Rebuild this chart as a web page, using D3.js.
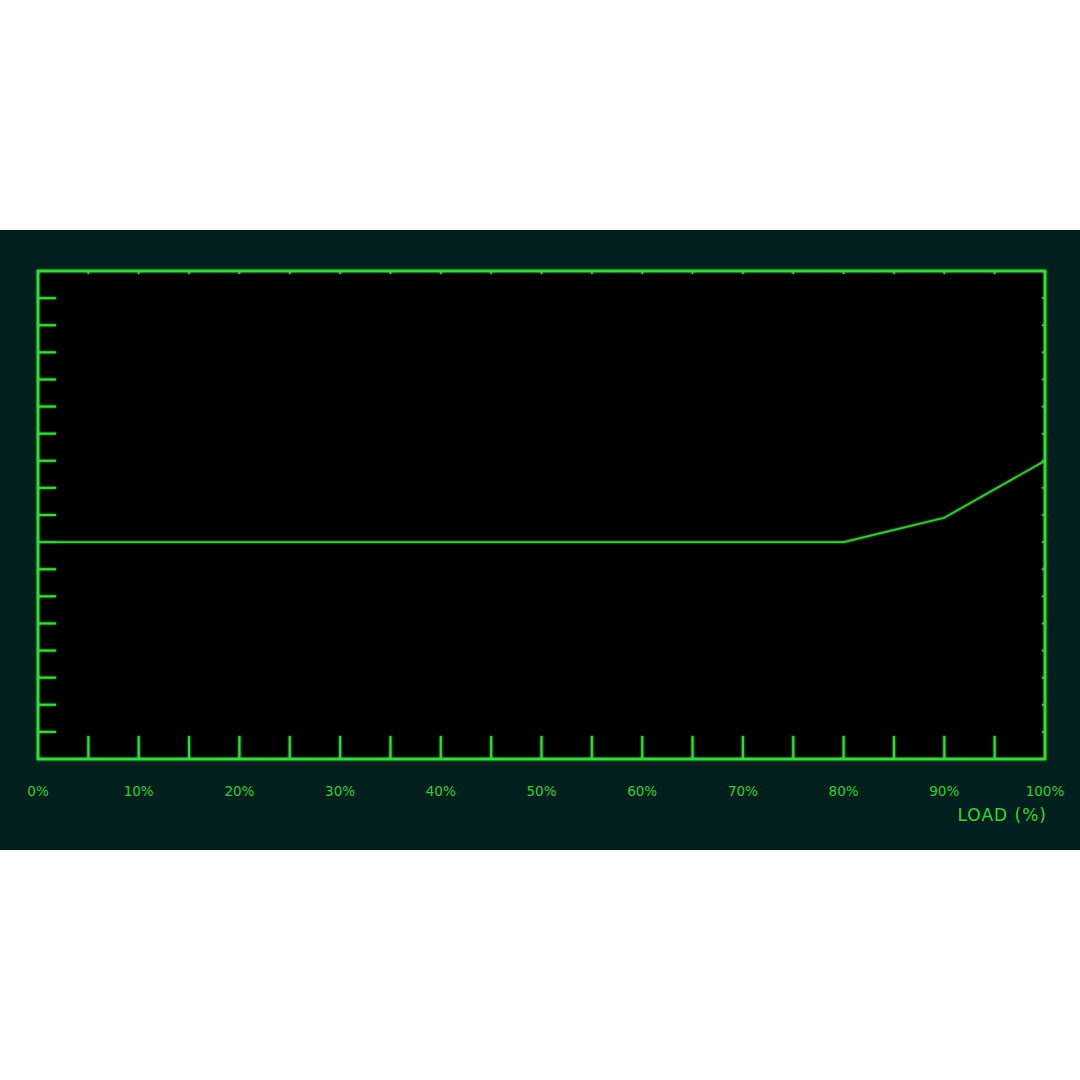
<!DOCTYPE html>
<html>
<head>
<meta charset="utf-8">
<script src="https://cdn.jsdelivr.net/npm/d3@7"></script>
<style>
  body { margin: 0; background: #ffffff; }
  svg { display: block; }
</style>
</head>
<body>
<script>
// load points (%) and curve level (unitless, grid of 18 steps)
const loads = [0, 10, 20, 30, 40, 50, 60, 70, 80, 90, 100];
const levels = [8, 8, 8, 8, 8, 8, 8, 8, 8, 8.9, 11];
const xTicks = [0, 10, 20, 30, 40, 50, 60, 70, 80, 90, 100];
const axisTitle = "LOAD (%)";

const W = 1080, H = 1080;
const green = "#3ad83a";
const margin = { top: 271, left: 38, right: 35, bottom: 321 };
const width = W - margin.left - margin.right;
const height = H - margin.top - margin.bottom;

const svg = d3.select("body").append("svg")
  .attr("width", W)
  .attr("height", H);

// soft glow like a scope screen
const defs = svg.append("defs");
const glow = defs.append("filter").attr("id", "glow")
  .attr("x", "-5%").attr("y", "-5%").attr("width", "110%").attr("height", "110%");
glow.append("feGaussianBlur").attr("stdDeviation", 1.2).attr("result", "b");
const merge = glow.append("feMerge");
merge.append("feMergeNode").attr("in", "b");
merge.append("feMergeNode").attr("in", "SourceGraphic");

// dark panel
svg.append("rect")
  .attr("x", 0).attr("y", 230)
  .attr("width", W).attr("height", 620)
  .attr("fill", "#011f1c");

const g = svg.append("g")
  .attr("transform", "translate(" + margin.left + "," + margin.top + ")");

g.append("rect")
  .attr("width", width).attr("height", height)
  .attr("fill", "#000000");

const x = d3.scaleLinear().domain([0, 100]).range([0, width]);
const y = d3.scaleLinear().domain([0, 18]).range([height, 0]);

const frame = g.append("g").attr("filter", "url(#glow)")
  .attr("stroke", green).attr("fill", "none");

// left ticks (long, inward) and right ticks (tiny)
const yTickVals = d3.range(1, 18);
frame.selectAll(".ly").data(yTickVals).enter().append("line")
  .attr("x1", 0).attr("x2", 18)
  .attr("y1", d => y(d)).attr("y2", d => y(d))
  .attr("stroke-width", 2);
frame.selectAll(".ry").data(yTickVals).enter().append("line")
  .attr("x1", width).attr("x2", width - 3)
  .attr("y1", d => y(d)).attr("y2", d => y(d))
  .attr("stroke-width", 1.5);

// bottom ticks every 5% and tiny top ticks
const xMinor = d3.range(5, 100, 5);
frame.selectAll(".bx").data(xMinor).enter().append("line")
  .attr("x1", d => x(d)).attr("x2", d => x(d))
  .attr("y1", height).attr("y2", height - 23)
  .attr("stroke-width", 2);
frame.selectAll(".tx").data(xMinor).enter().append("line")
  .attr("x1", d => x(d)).attr("x2", d => x(d))
  .attr("y1", 0).attr("y2", 3)
  .attr("stroke-width", 1.5);

// the curve
const line = d3.line()
  .x((d, i) => x(loads[i]))
  .y(d => y(d));
frame.append("path")
  .datum(levels)
  .attr("d", line)
  .attr("stroke", "#3cc83c")
  .attr("stroke-width", 1.6);

// border
frame.append("rect")
  .attr("width", width).attr("height", height)
  .attr("stroke-width", 2.5);

// tick labels
g.selectAll(".xl").data(xTicks).enter().append("text")
  .attr("x", d => x(d))
  .attr("y", height + 37)
  .attr("text-anchor", "middle")
  .attr("font-family", "DejaVu Sans")
  .attr("font-size", "13.5px")
  .attr("fill", "#2fcf2f")
  .text(d => d + "%");

g.append("text")
  .attr("x", width + 2)
  .attr("y", height + 62)
  .attr("text-anchor", "end")
  .attr("font-family", "DejaVu Sans")
  .attr("font-size", "17px")
  .attr("fill", "#33d633")
  .attr("letter-spacing", "1px")
  .text(axisTitle);
</script>
</body>
</html>
